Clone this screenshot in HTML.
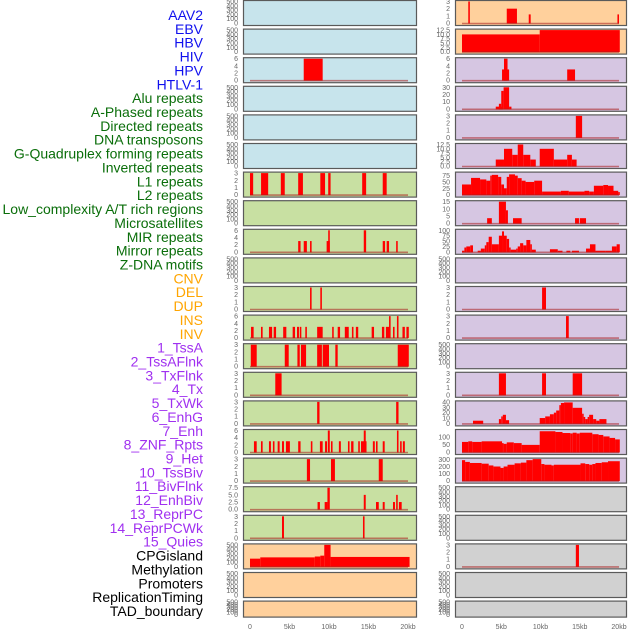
<!DOCTYPE html>
<html><head><meta charset="utf-8">
<style>
html,body{margin:0;padding:0;background:#fff;}
svg{display:block;font-family:"Liberation Sans",sans-serif;}
</style></head>
<body>
<svg id="chart" width="630" height="630" viewBox="0 0 630 630" xmlns="http://www.w3.org/2000/svg"></svg>
<script>
// ---- data ----
const labelNames = ["AAV2","EBV","HBV","HIV","HPV","HTLV-1","Alu repeats","A-Phased repeats","Directed repeats","DNA transposons","G-Quadruplex forming repeats","Inverted repeats","L1 repeats","L2 repeats","Low_complexity A/T rich regions","Microsatellites","MIR repeats","Mirror repeats","Z-DNA motifs","CNV","DEL","DUP","INS","INV","1_TssA","2_TssAFlnk","3_TxFlnk","4_Tx","5_TxWk","6_EnhG","7_Enh","8_ZNF_Rpts","9_Het","10_TssBiv","11_BivFlnk","12_EnhBiv","13_ReprPC","14_ReprPCWk","15_Quies","CPGisland","Methylation","Promoters","ReplicationTiming","TAD_boundary"];
const labelGroups = [0,0,0,0,0,0,1,1,1,1,1,1,1,1,1,1,1,1,1,2,2,2,2,2,3,3,3,3,3,3,3,3,3,3,3,3,3,3,3,4,4,4,4,4];
const xTickLabels = ["0","5kb","10kb","15kb","20kb"];
const xTickValues = [0,5,10,15,20];
const emptyTicks = [0,100,200,300,400,500];

const leftColors = ["b","b","b","b","b","b","g","g","g","g","g","g","g","g","g","g","g","g","g","o","o","o"];
const leftPanels = [
 null, null,
 [6,[0,2,4,6],[[6.8,9.2,6]]],
 null, null, null,
 [3,[0,1,2,3],[[0,0.4,3],[1.4,2.3,3],[3.9,4.4,3],[6.1,6.7,3],[8.9,9.5,3],[9.9,10.2,3],[14.2,14.7,3],[16.8,17.3,3]]],
 null,
 [6,[0,2,4,6],[[6.1,6.4,3],[6.8,7.2,3],[7.6,7.8,3],[9.7,10.1,3],[9.9,10.1,6],[14.4,14.7,6],[16.8,17.1,3],[17.3,17.6,3],[18.5,18.7,3]]],
 null,
 [3,[0,1,2,3],[[7.6,7.8,3],[8.9,9.1,3]]],
 [6,[0,2,4,6],[[0.13,0.46,3],[1.39,1.6,3],[2.4,2.8,3],[3.0,3.3,3],[4.2,4.6,3],[5.4,5.7,3],[5.95,6.2,3],[6.3,6.5,3],[7.0,7.2,3],[8.5,9.2,3],[10.4,10.6,3],[11.1,11.4,3],[12.0,12.5,3],[12.9,13.1,3],[13.4,13.7,3],[15.4,15.7,3],[16.7,17.0,3],[17.2,17.7,3],[17.6,17.8,6],[18.1,18.3,3],[18.6,18.8,6],[19.3,19.6,3],[19.8,20.1,3]]],
 [3,[0,1,2,3],[[0.1,0.85,3],[4.4,4.9,3],[6.0,6.3,3],[6.45,7.1,3],[8.5,9.1,3],[9.2,10.0,3],[10.8,11.1,3],[18.7,20.1,3]]],
 [3,[0,1,2,3],[[3.2,4.0,3]]],
 [3,[0,1,2,3],[[8.5,8.8,3],[18.5,18.8,3]]],
 [6,[0,2,4,6],[[0.5,0.85,3],[1.39,1.6,3],[2.4,2.65,3],[2.9,3.1,3],[3.5,3.75,3],[4.05,4.3,3],[4.55,5.05,3],[6.1,6.4,3],[7.7,7.9,3],[8.85,9.2,3],[9.5,9.75,3],[9.85,10.1,6],[10.25,10.45,3],[11.25,11.5,3],[12.4,12.6,3],[12.8,13.1,3],[13.7,13.9,3],[14.05,14.75,3],[14.4,14.65,6],[15.55,15.8,3],[15.95,16.15,3],[16.8,17.05,3],[18.6,18.8,6],[19.0,19.2,3],[19.35,19.6,3]]],
 [3,[0,1,2,3],[[7.2,7.6,3],[10.25,10.75,3],[16.3,16.8,3]]],
 [7.5,[0,2.5,5,7.5],[[8.55,8.85,2.5],[9.45,9.8,2.5],[9.8,10.1,7.5],[14.4,14.65,5],[15.95,16.3,2.5],[16.8,17.05,2.5],[18.1,18.35,2.5],[18.5,18.7,5],[18.85,19.2,2.5]]],
 [3,[0,1,2,3],[[4.05,4.3,3],[14.3,14.5,3]]],
 [500,emptyTicks,[[0,1.3,180],[1.3,8.2,210],[8.2,8.9,230],[8.9,9.4,250],[9.4,10.2,500],[10.2,20.2,220]]],
 null, null
];

const rightColors = ["o","o","p","p","p","p","p","p","p","p","p","p","p","p","p","p","p","y","y","y","y","y"];
const rightPanels = [
 [3,[0,1,2,3],[[0.8,1.0,3],[5.7,7.0,2],[8.5,8.75,1.2],[19.8,20.0,1.2]]],
 [12.5,[0,2.5,5,7.5,10,12.5],[[0,9.9,10],[9.9,20.1,12.5]]],
 [6,[0,2,4,6],[[5.1,6.0,3],[5.35,5.8,6],[13.4,14.4,3]]],
 [30,[0,10,20,30],[[4.3,5.2,3],[4.7,5.0,7],[5.0,5.3,25],[5.3,6.0,30],[6.0,6.3,3]]],
 [3,[0,1,2,3],[[14.5,15.3,3]]],
 [12.5,[0,2.5,5,7.5,10,12.5],[[4.3,5.35,3.75],[5.35,6.4,10],[6.4,7.1,6.5],[7.1,7.8,12.5],[7.8,8.7,6.5],[8.7,9.4,3.75],[9.9,11.7,10],[11.7,13.4,3.75],[13.4,14.0,6.5],[14.0,14.6,3.75]]],
 [85,[0,25,50,75],[[0,1.15,40],[1.15,2.3,66],[2.3,3.1,60],[3.1,3.6,55],[3.6,3.8,75],[3.8,4.6,78],[4.6,5.0,70],[5.0,5.35,40],[5.35,5.7,25],[5.7,6.0,70],[6.0,6.75,80],[6.75,7.1,75],[7.1,7.6,65],[7.6,8.1,55],[8.1,9.2,50],[9.2,10.2,55],[10.2,12.6,12],[12.6,13.6,15],[13.6,15.6,12],[15.6,16.2,15],[16.2,16.8,12],[16.8,18.0,35],[18.0,18.6,38],[18.6,19.3,35],[19.3,19.9,15],[19.9,20.1,10]]],
 [15,[0,5,10,15],[[3.2,3.8,3.5],[4.7,5.6,15],[5.6,5.85,9],[6.5,7.6,3.5],[14.4,14.9,3.5],[15.0,15.8,3.5]]],
 [100,[0,25,50,75,100],[[0,0.3,5],[0.3,0.55,20],[0.55,1.05,25],[1.05,1.4,30],[2.0,2.4,5],[2.4,2.9,15],[2.9,3.1,30],[3.1,3.4,45],[3.4,3.8,70],[3.8,4.7,35],[4.7,5.1,75],[5.1,5.35,95],[5.35,5.7,75],[5.7,6.0,60],[6.0,6.2,20],[6.2,6.9,10],[6.9,7.1,15],[7.1,7.4,25],[7.4,7.8,40],[7.8,8.2,30],[8.2,8.7,55],[8.7,8.9,35],[8.9,9.4,10],[11.2,12.2,12],[12.2,12.8,5],[13.3,13.8,5],[14.0,14.9,5],[15.8,16.3,15],[16.3,17.0,35],[17.0,18.3,5],[18.3,19.1,5],[19.1,19.7,25],[19.7,20.1,35]]],
 null,
 [3,[0,1,2,3],[[10.2,10.7,3]]],
 [3,[0,1,2,3],[[13.25,13.6,3]]],
 null,
 [3,[0,1,2,3],[[4.7,5.6,3],[10.2,10.7,3],[14.1,15.3,3]]],
 [40,[0,10,20,30,40],[[1.4,2.7,5],[4.7,5.0,8],[5.0,5.2,13],[5.2,5.6,16],[5.6,6.0,6],[9.9,10.6,10],[10.6,11.2,13],[11.2,11.7,17],[11.7,12.0,20],[12.0,12.4,24],[12.4,12.6,34],[12.6,13.0,38],[13.0,14.1,39],[14.1,15.3,29],[15.3,15.5,18],[15.5,15.7,12],[15.7,16.0,8],[16.0,16.2,12],[16.2,16.7,16],[16.7,17.1,8],[17.1,17.5,5],[17.5,18.4,8]]],
 [145,[0,50,100],[[0,0.8,68],[0.8,1.3,72],[1.3,2.5,68],[2.5,5.1,72],[5.1,5.3,60],[5.3,5.7,55],[5.7,6.6,65],[6.6,7.6,60],[7.6,9.9,48],[9.9,11.9,140],[11.9,12.8,135],[12.8,13.8,128],[13.8,14.1,125],[14.1,14.6,130],[14.6,15.0,125],[15.0,16.6,130],[16.6,17.4,120],[17.4,18.0,115],[18.0,18.8,105],[18.8,19.5,95],[19.5,20.1,85]]],
 [305,[0,100,200,300],[[0,0.4,290],[0.4,1.0,265],[1.0,2.5,250],[2.5,3.4,240],[3.4,4.0,215],[4.0,4.9,200],[4.9,5.3,180],[5.3,5.8,200],[5.8,6.7,225],[6.7,7.5,245],[7.5,8.2,255],[8.2,9.0,290],[9.0,10.1,305],[10.1,10.5,235],[10.5,11.4,225],[11.4,11.7,215],[11.7,15.1,225],[15.1,15.7,245],[15.7,16.2,235],[16.2,16.6,225],[16.6,17.0,235],[17.0,17.8,250],[17.8,18.6,260],[18.6,20.1,275]]],
 null, null,
 [3,[0,1,2,3],[[14.5,14.9,3]]],
 null, null
];

// ---- rendering ----
const NS = "http://www.w3.org/2000/svg";
const svg = document.getElementById("chart");
function mk(tag, attrs, parent){ const e=document.createElementNS(NS,tag); for(const k in attrs) e.setAttribute(k,attrs[k]); (parent||svg).appendChild(e); return e; }
const fills = {b:"#c7e4ec",g:"#c8e0a2",o:"#ffd09c",p:"#d6c6e2",y:"#d1d1d1"};
const groupColors = ["#1010ee","#0a6e0a","#ffa500","#a030f0","#000000"];

labelNames.forEach((n,i)=>{
  const t = mk("text",{x:203,y:(20+i*13.86).toFixed(2),"text-anchor":"end","font-size":"14",fill:groupColors[labelGroups[i]]});
  t.textContent = n;
  
  
});

function panelTop(i){ return i*28.6; }
function panelH(i){ return i===21 ? 16 : 25; }

function drawPanel(col, i, spec, color){
  const x0 = col===0 ? 243 : 455, x1 = col===0 ? 416 : 626;
  const kb0 = col===0 ? 250 : 462, kb1 = col===0 ? 408 : 619;
  const xs = v => kb0 + (kb1-kb0)*v/20;
  const top = panelTop(i), h = panelH(i);
  const g = mk("g",{});
  
  
  mk("rect",{x:x0+0.5,y:top+0.5,width:x1-x0,height:h,fill:fills[color],stroke:"#5a5a5a","stroke-width":1.2},g);
  const ymax = spec ? spec[0] : 500;
  const ticks = spec ? spec[1] : emptyTicks;
  const ys = v => top+1.5 + (h-3.5)*(1 - v/ymax);
  const dec = ticks.some(v=>v%1!==0);
  ticks.forEach(tv=>{
    const t = mk("text",{x:x0-5,y:(ys(tv)+2.5).toFixed(2),"text-anchor":"end","font-size":"7",fill:"#666"},g);
    t.textContent = dec ? tv.toFixed(1) : String(tv);
    
    
  });
  if(spec){
    spec[2].forEach(b=>{
      const bx = xs(b[0]), bw = Math.max(1.5, xs(b[1])-xs(b[0]));
      const r = mk("rect",{x:bx.toFixed(2),y:ys(b[2]).toFixed(2),width:bw.toFixed(2),height:(ys(0)-ys(b[2])+0.5).toFixed(2),fill:"#ff0000"},g);
      
      
    });
    const bl = mk("line",{x1:xs(0),x2:xs(20),y1:ys(0)+0.5,y2:ys(0)+0.5,stroke:"rgba(170,30,30,0.55)","stroke-width":1.6},g);
    
    
  }
}
leftPanels.forEach((s,i)=>drawPanel(0,i,s,leftColors[i]));
rightPanels.forEach((s,i)=>drawPanel(1,i,s,rightColors[i]));

[0,1].forEach(col=>{
  const kb0 = col===0 ? 250 : 462, kb1 = col===0 ? 408 : 619;
  xTickValues.forEach((v,k)=>{
    const t = mk("text",{x:(kb0+(kb1-kb0)*v/20).toFixed(2),y:629,"text-anchor":"middle","font-size":"7",fill:"#666"});
    t.textContent = xTickLabels[k];
    
    
  });
});
</script>
</body></html>
